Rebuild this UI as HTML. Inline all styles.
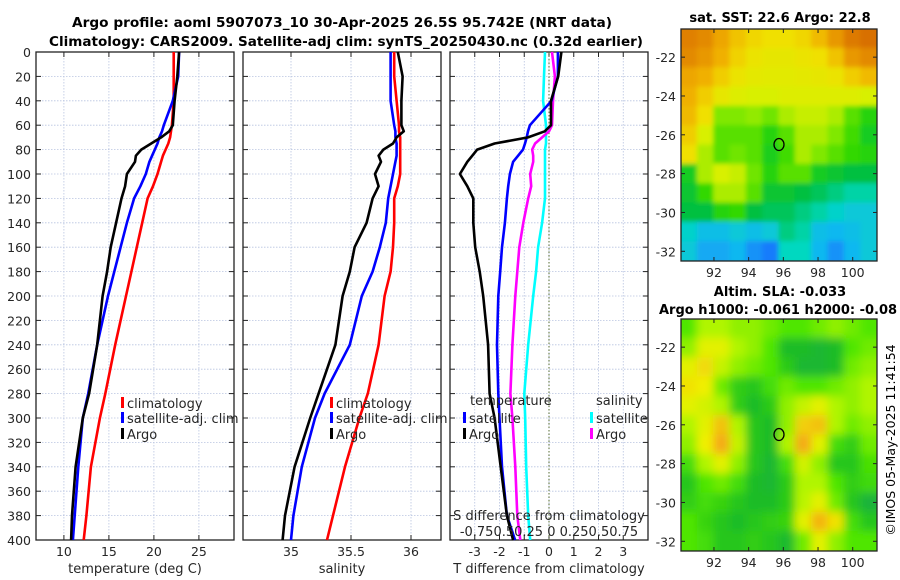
<!DOCTYPE html>
<html><head><meta charset="utf-8">
<style>
html,body{margin:0;padding:0;background:#fff;}
svg{display:block;font-family:"DejaVu Sans","Liberation Sans",sans-serif;}
</style></head>
<body>
<svg id="fig" width="900" height="580" viewBox="0 0 900 580" xmlns="http://www.w3.org/2000/svg">
<defs>
<filter id="blurS" x="-5%" y="-5%" width="110%" height="110%"><feGaussianBlur stdDeviation="2.5"/></filter>
<filter id="blurL" x="-5%" y="-5%" width="110%" height="110%"><feGaussianBlur stdDeviation="4.5"/></filter>
<clipPath id="clipTop"><rect x="681" y="29" width="196" height="232"/></clipPath>
<clipPath id="clipBot"><rect x="681" y="319" width="196" height="232"/></clipPath>
</defs>
<text x="342" y="27" text-anchor="middle" font-size="13" font-weight="bold" textLength="540" lengthAdjust="spacingAndGlyphs">Argo profile: aoml 5907073_10 30-Apr-2025 26.5S 95.742E (NRT data)</text>
<text x="346" y="46" text-anchor="middle" font-size="13" font-weight="bold" textLength="594" lengthAdjust="spacingAndGlyphs">Climatology: CARS2009. Satellite-adj clim: synTS_20250430.nc (0.32d earlier)</text>
<text x="780" y="22" text-anchor="middle" font-size="13" font-weight="bold">sat. SST: 22.6 Argo: 22.8</text>
<text x="780" y="296" text-anchor="middle" font-size="13" font-weight="bold">Altim. SLA: -0.033</text>
<text x="659" y="314" font-size="13" font-weight="bold">Argo h1000: -0.061 h2000: -0.08</text>
<text transform="translate(895,440) rotate(-90)" text-anchor="middle" font-size="12.5">©IMOS 05-May-2025 11:41:54</text>
<g id="panels"></g>
<g id="maps"></g>
</svg>
<script>
// ---- profile data ----
const depth = [0,20,40,60,65,70,75,80,85,90,100,110,120,140,160,180,200,240,280,300,340,380,400];
const tClim = [22.2,22.2,22.2,22.0,21.9,21.8,21.6,21.3,21.0,20.8,20.4,19.9,19.3,18.7,18.1,17.5,16.9,15.7,14.6,14.0,13.0,12.5,12.2];
const tSat  = [22.8,22.7,22.1,21.1,20.9,20.6,20.4,20.1,19.8,19.5,19.1,18.5,17.8,17.0,16.3,15.6,14.9,13.7,12.7,12.1,11.6,11.2,11.0];
const tArgo = [22.8,22.6,22.3,22.1,21.7,20.8,19.7,18.6,18.0,17.9,17.0,16.8,16.4,15.8,15.2,14.8,14.3,13.7,12.8,12.1,11.3,10.9,10.8];
const sClim = [35.86,35.86,35.88,35.90,35.90,35.91,35.91,35.91,35.91,35.91,35.91,35.89,35.86,35.86,35.85,35.83,35.78,35.73,35.64,35.57,35.45,35.35,35.30];
const sSat  = [35.83,35.83,35.83,35.86,35.87,35.87,35.88,35.88,35.88,35.87,35.85,35.83,35.81,35.79,35.74,35.68,35.59,35.49,35.28,35.20,35.09,35.02,35.00];
const sArgo = [35.89,35.93,35.92,35.92,35.94,35.88,35.85,35.77,35.73,35.75,35.70,35.73,35.68,35.63,35.53,35.49,35.43,35.37,35.23,35.16,35.03,34.95,34.93];
const dTSat  = [0.36,0.36,0.1,-0.77,-0.85,-0.9,-0.97,-1.05,-1.25,-1.45,-1.58,-1.65,-1.7,-1.78,-1.9,-1.97,-2.05,-2.1,-2.05,-2.0,-1.9,-1.7,-1.37];
const dTArgo = [0.5,0.37,0.08,0.08,-0.17,-0.85,-2.2,-2.9,-3.1,-3.3,-3.6,-3.3,-3.06,-3.06,-2.98,-2.8,-2.66,-2.46,-2.4,-2.2,-1.95,-1.7,-1.45];
const dSSat  = [-0.04,-0.05,-0.06,-0.03,-0.03,-0.03,-0.03,-0.04,-0.04,-0.04,-0.04,-0.04,-0.04,-0.07,-0.11,-0.13,-0.16,-0.21,-0.25,-0.24,-0.23,-0.21,-0.19];
const dSArgo = [0.03,0.06,0.04,0.03,0.0,-0.07,-0.14,-0.17,-0.16,-0.16,-0.19,-0.18,-0.21,-0.26,-0.3,-0.32,-0.34,-0.37,-0.39,-0.37,-0.34,-0.32,-0.29];
const depthTicks = [0,20,40,60,80,100,120,140,160,180,200,220,240,260,280,300,320,340,360,380,400];
const tTicks = [10,15,20,25];
const sTicks = [35,35.5,36];
const dtTicks = [-3,-2,-1,0,1,2,3];
const dsTickLabel = "-0.750.50.25 0 0.250.50.75";
// ---- map data (normalised colour values, rows north->south) ----
const sstGrid = [
[.9,.88,.82,.76,.72,.7,.7,.72,.78,.85,.92,.95],
[.88,.85,.8,.73,.68,.66,.66,.68,.7,.76,.85,.88],
[.82,.8,.74,.68,.65,.64,.64,.65,.66,.68,.74,.78],
[.8,.74,.66,.62,.6,.6,.62,.62,.62,.62,.62,.6],
[.78,.7,.5,.5,.52,.48,.55,.58,.58,.55,.45,.38],
[.74,.6,.45,.45,.45,.38,.45,.55,.55,.5,.42,.35],
[.7,.55,.45,.48,.45,.36,.42,.55,.5,.45,.4,.38],
[.35,.55,.6,.58,.48,.38,.45,.45,.35,.32,.3,.3],
[.32,.4,.55,.55,.45,.32,.32,.3,.28,.25,.22,.22],
[.3,.3,.38,.4,.3,.28,.28,.25,.22,.18,.15,.15],
[.18,.12,.12,.15,.12,.15,.25,.22,.12,.1,.12,.15],
[.15,.08,.08,.1,.05,.02,.2,.2,.1,.05,.1,.15]];
const slaGrid = [
[.45,.6,.6,.55,.55,.5,.45,.45,.5,.55,.5,.45],
[.55,.72,.72,.6,.55,.45,.22,.22,.18,.22,.45,.5],
[.72,.8,.65,.55,.5,.45,.3,.18,.18,.22,.5,.55],
[.78,.75,.5,.32,.28,.4,.5,.45,.45,.5,.55,.6],
[.72,.68,.6,.32,.22,.3,.55,.65,.72,.6,.55,.6],
[.6,.72,.85,.6,.28,.22,.55,.82,.85,.6,.5,.55],
[.55,.75,.9,.65,.28,.22,.6,.9,.72,.4,.32,.5],
[.4,.6,.72,.55,.28,.18,.4,.68,.55,.28,.28,.42],
[.28,.45,.5,.4,.22,.18,.3,.6,.6,.45,.32,.38],
[.32,.4,.35,.28,.22,.22,.3,.62,.72,.5,.28,.15],
[.45,.35,.28,.22,.28,.32,.35,.72,.88,.78,.4,.28],
[.45,.4,.28,.28,.32,.28,.2,.5,.72,.55,.45,.45]];
const lonTicks = [92,94,96,98,100];
const latTicks = [-22,-24,-26,-28,-30,-32];
const argoLon = 95.75, argoLat = -26.5;

const NS = "http://www.w3.org/2000/svg";
function mk(tag, attrs, parent){const e=document.createElementNS(NS,tag);for(const k in attrs)e.setAttribute(k,attrs[k]);parent.appendChild(e);return e;}
const P = document.getElementById('panels');
const top0=52, bot0=540;
const yD = d => top0 + (d/400)*(bot0-top0);

function panel(name, x0, x1, vmin, vmax){
  const g = mk('g',{},P);
  
  
  const sx = v => x0 + (v-vmin)/(vmax-vmin)*(x1-x0);
  return {g, sx, x0, x1};
}
function frame(p, xt, labels, title){
  const g=p.g;
  depthTicks.forEach(d=>{
    if(d>0&&d<400){const l=mk('line',{x1:p.x0,x2:p.x1,y1:yD(d),y2:yD(d),stroke:'#b8c4e0','stroke-width':0.8,'stroke-dasharray':'1.5,1.5'},g);
      
      }
    mk('line',{x1:p.x0,x2:p.x0+5,y1:yD(d),y2:yD(d),stroke:'#222'},g);
    mk('line',{x1:p.x1-5,x2:p.x1,y1:yD(d),y2:yD(d),stroke:'#222'},g);
  });
  xt.forEach((v,i)=>{
    const x=p.sx(v);
    const l=mk('line',{x1:x,x2:x,y1:top0,y2:bot0,stroke:'#b8c4e0','stroke-width':0.8,'stroke-dasharray':'1.5,1.5'},g);
    
    
    mk('line',{x1:x,x2:x,y1:top0,y2:top0+5,stroke:'#222'},g);
    mk('line',{x1:x,x2:x,y1:bot0-5,y2:bot0,stroke:'#222'},g);
    const t=mk('text',{x:x,y:556,'text-anchor':'middle','font-size':12.5,fill:'#262626'},g);
    t.textContent=labels[i];
    
    
  });
  const r=mk('rect',{x:p.x0,y:top0,width:p.x1-p.x0,height:bot0-top0,fill:'none',stroke:'#222','stroke-width':1.3},g);
  
  
  const tt=mk('text',{x:(p.x0+p.x1)/2,y:573,'text-anchor':'middle','font-size':13,fill:'#262626'},g);
  tt.textContent=title;
  
  
}
function series(p, vals, color, name){
  const pts = vals.map((v,i)=>p.sx(v).toFixed(1)+','+yD(depth[i]).toFixed(1)).join(' ');
  const l=mk('polyline',{points:pts,fill:'none',stroke:color,'stroke-width':2.6,'stroke-linejoin':'round'},p.g);
  
  
}
function legend(p, x, y, color, label, name){
  mk('rect',{x:x,y:y-11,width:3,height:11,fill:color},p.g);
  const t=mk('text',{x:x+6,y:y,'font-size':13,fill:'#262626'},p.g);
  t.textContent=label;
  
  
}
depthTicks.forEach(d=>{
  const t=mk('text',{x:31,y:yD(d)+5,'text-anchor':'end','font-size':12.5,fill:'#262626'},P);
  t.textContent=d;
  
  
});
const p1=panel('temperature-panel',36,234,6.9,28.9);
frame(p1,tTicks,tTicks.map(String),'temperature (deg C)');
series(p1,tClim,'#ff0000','temp-climatology-line');
series(p1,tSat,'#0000ff','temp-satellite-line');
series(p1,tArgo,'#000000','temp-argo-line');
legend(p1,121,408,'#ff0000','climatology','legend-climatology');
legend(p1,121,423,'#0000ff','satellite-adj. clim','legend-satellite');
legend(p1,121,439,'#000000','Argo','legend-argo');
const p2=panel('salinity-panel',243,441,34.6,36.25);
frame(p2,sTicks,['35','35.5','36'],'salinity');
series(p2,sClim,'#ff0000','sal-climatology-line');
series(p2,sSat,'#0000ff','sal-satellite-line');
series(p2,sArgo,'#000000','sal-argo-line');
legend(p2,330,408,'#ff0000','climatology','legend-climatology-sal');
legend(p2,330,423,'#0000ff','satellite-adj. clim','legend-satellite-sal');
legend(p2,330,439,'#000000','Argo','legend-argo-sal');
const p3=panel('difference-panel',450,648,-4,4);
frame(p3,dtTicks,dtTicks.map(String),'T difference from climatology');
const zl=mk('line',{x1:p3.sx(0),x2:p3.sx(0),y1:top0,y2:bot0,stroke:'#556b2f','stroke-width':1,'stroke-dasharray':'1.5,2'},p3.g);


const p3s={g:p3.g,sx:v=>p3.sx(v*4),x0:450,x1:648};
series(p3s,dSSat,'#00ffff','sal-diff-satellite-line');
series(p3s,dSArgo,'#ff00ff','sal-diff-argo-line');
series(p3,dTSat,'#0000ff','temp-diff-satellite-line');
series(p3,dTArgo,'#000000','temp-diff-argo-line');
let lt=mk('text',{x:470,y:405,'font-size':13,fill:'#262626'},p3.g);lt.textContent='temperature';


lt=mk('text',{x:596,y:405,'font-size':13,fill:'#262626'},p3.g);lt.textContent='salinity';


legend(p3,463,423,'#0000ff','satellite','legend-t-satellite');
legend(p3,463,439,'#000000','Argo','legend-t-argo');
legend(p3,590,423,'#00ffff','satellite','legend-s-satellite');
legend(p3,590,439,'#ff00ff','Argo','legend-s-argo');
lt=mk('text',{x:549,y:520,'text-anchor':'middle','font-size':13,fill:'#262626'},p3.g);lt.textContent='S difference from climatology';


lt=mk('text',{x:549,y:536,'text-anchor':'middle','font-size':13,fill:'#262626'},p3.g);lt.textContent=dsTickLabel;



const M=document.getElementById('maps');
const lon0=90.1, lon1=101.4, lat0=-20.55, lat1=-32.5;
function cmap(stops,v){
  for(let i=1;i<stops.length;i++){if(v<=stops[i][0]){const a=stops[i-1],b=stops[i];const t=(v-a[0])/(b[0]-a[0]);
    return 'rgb('+[0,1,2].map(k=>Math.round(a[1][k]+(b[1][k]-a[1][k])*t)).join(',')+')';}}
  const l=stops[stops.length-1][1];return 'rgb('+l.join(',')+')';
}
const sstStops=[[0,[26,108,255]],[0.1,[16,184,240]],[0.2,[0,216,192]],[0.3,[0,192,64]],[0.4,[48,216,0]],[0.5,[128,232,0]],[0.6,[216,240,0]],[0.7,[240,224,0]],[0.8,[240,176,0]],[0.9,[224,128,0]],[1,[208,96,0]]];
const slaStops=[[0,[16,160,96]],[0.25,[32,192,32]],[0.45,[80,230,0]],[0.6,[176,245,0]],[0.75,[240,240,0]],[0.9,[245,170,20]],[1,[240,140,20]]];
function drawMap(name,grid,stops,y0,clip,filt){
  const g=mk('g',{},M);
  
  
  const x0=681,x1=877,y1=y0+232;
  const sx=lo=>x0+(lo-lon0)/(lon1-lon0)*(x1-x0);
  const sy=la=>y0+(la-lat0)/(lat1-lat0)*(y1-y0);
  const cg=mk('g',{'clip-path':'url(#'+clip+')'},g);
  const fg=mk('g',{filter:'url(#'+filt+')'},cg);
  const nr=grid.length,nc=grid[0].length;
  const cw=(x1-x0)/nc, ch=(y1-y0)/nr;
  grid.forEach((row,r)=>row.forEach((v,c)=>{
    const cell=mk('rect',{x:x0+c*cw-cw*0.5*(c==0)-0.5,y:y0+r*ch-ch*0.5*(r==0)-0.5,width:cw+1+cw*0.5*(c==0||c==nc-1),height:ch+1+ch*0.5*(r==0||r==nr-1),fill:cmap(stops,v)},fg);
    
    
  }));
  const fr=mk('rect',{x:x0,y:y0,width:x1-x0,height:y1-y0,fill:'none',stroke:'#222','stroke-width':1.3},g);
  
  
  lonTicks.forEach(lo=>{
    const x=sx(lo);
    mk('line',{x1:x,x2:x,y1:y1,y2:y1-4,stroke:'#222'},g);
    mk('line',{x1:x,x2:x,y1:y0,y2:y0+4,stroke:'#222'},g);
    const t=mk('text',{x:x,y:y1+16,'text-anchor':'middle','font-size':12.5,fill:'#262626'},g);t.textContent=lo;
    
    
  });
  latTicks.forEach(la=>{
    const y=sy(la);
    mk('line',{x1:x0,x2:x0+4,y1:y,y2:y,stroke:'#222'},g);
    mk('line',{x1:x1,x2:x1-4,y1:y,y2:y,stroke:'#222'},g);
    const t=mk('text',{x:x0-5,y:y+5,'text-anchor':'end','font-size':12.5,fill:'#262626'},g);t.textContent=la;
    
    
  });
  const m=mk('ellipse',{cx:sx(argoLon),cy:sy(argoLat),rx:5,ry:6,fill:'none',stroke:'#000','stroke-width':1.3},g);
  
  
}
drawMap('sst-map',sstGrid,sstStops,29,'clipTop','blurS');
drawMap('sla-map',slaGrid,slaStops,319,'clipBot','blurL');
</script>
</body></html>
